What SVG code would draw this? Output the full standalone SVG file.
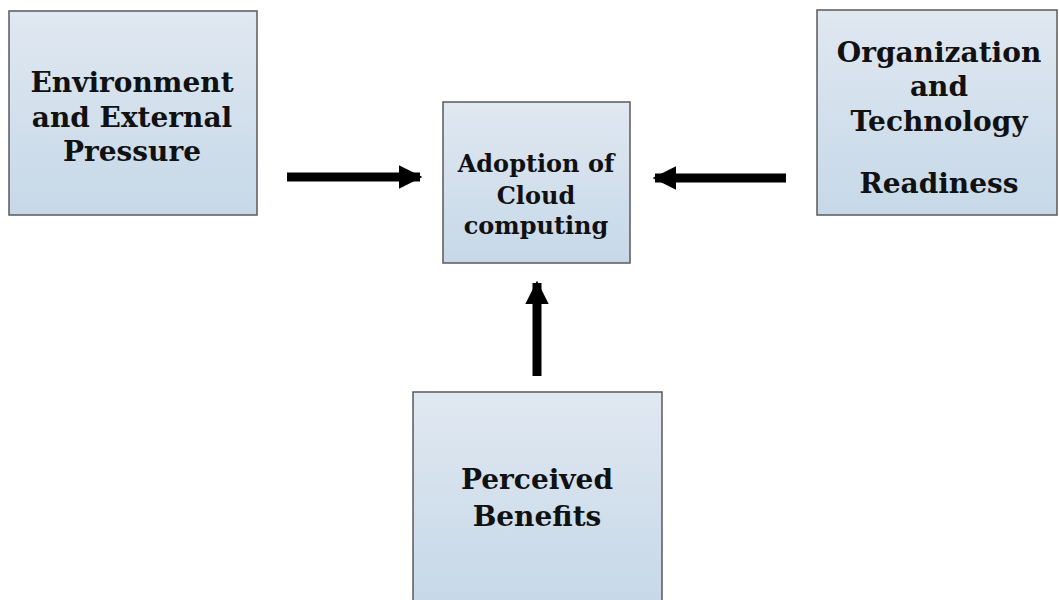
<svg xmlns="http://www.w3.org/2000/svg" width="1059" height="600" viewBox="0 0 1059 600">
<defs>
<linearGradient id="g" x1="0" y1="0" x2="0" y2="1">
<stop offset="0" stop-color="#e0e8f1"/>
<stop offset="1" stop-color="#c6d8e8"/>
</linearGradient>
<marker id="ah" viewBox="0 0 10 10" refX="9" refY="5" markerWidth="2.6" markerHeight="2.6" orient="auto" markerUnits="strokeWidth">
<path d="M0,0 L10,5 L0,10 z" fill="#000"/>
</marker>
</defs>
<style>
.box{fill:url(#g);stroke:#5a5a5a;stroke-width:1.5}
.t{font-family:"DejaVu Serif","Liberation Serif",serif;font-weight:bold;fill:#111;text-anchor:middle}
.conn{stroke:#000;stroke-width:9;fill:none;marker-end:url(#ah)}
</style>
<rect width="1059" height="600" fill="#fff"/>
<g id="env">
<rect class="box" x="9" y="11" width="248" height="204"/>
<text class="t" font-size="28" x="132" y="92">Environment</text>
<text class="t" font-size="28" x="132" y="127">and External</text>
<text class="t" font-size="28" x="132" y="161">Pressure</text>
</g>
<g id="adoption">
<rect class="box" x="443" y="102" width="187" height="161"/>
<text class="t" font-size="24" x="536" y="172">Adoption of</text>
<text class="t" font-size="24" x="536" y="204">Cloud</text>
<text class="t" font-size="24" x="536" y="234">computing</text>
</g>
<g id="org">
<rect class="box" x="817" y="10" width="240" height="205"/>
<text class="t" font-size="28" x="939" y="62">Organization</text>
<text class="t" font-size="28" x="939" y="96">and</text>
<text class="t" font-size="28" x="939" y="131">Technology</text>
<text class="t" font-size="28" x="939" y="193">Readiness</text>
</g>
<g id="benefits">
<rect class="box" x="413" y="392" width="249" height="215"/>
<text class="t" font-size="28" x="537" y="489">Perceived</text>
<text class="t" font-size="28" x="537" y="526">Benefits</text>
</g>
<g id="connectors">
<line class="conn" x1="287" y1="177" x2="420" y2="177"/>
<line class="conn" x1="786" y1="178" x2="655" y2="178"/>
<line class="conn" x1="537" y1="376" x2="537" y2="283"/>
</g>
</svg>
